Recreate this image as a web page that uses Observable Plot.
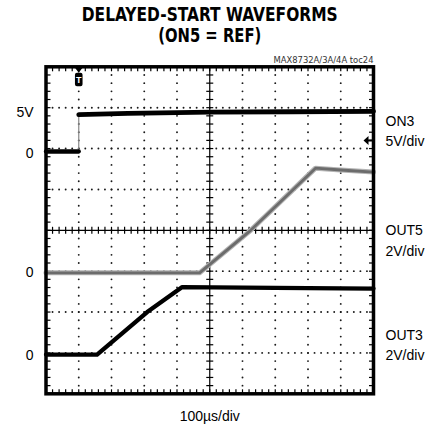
<!DOCTYPE html>
<html><head><meta charset="utf-8">
<script src="https://cdn.jsdelivr.net/npm/d3@7"></script>
<script src="https://cdn.jsdelivr.net/npm/@observablehq/plot@0.6"></script>
<style>body{margin:0;background:#fff;} #chart svg{display:block;}</style>
</head><body><div id="chart"></div>
<script>
// ---- text ----
const titleLines = ["DELAYED-START WAVEFORMS", "(ON5 = REF)"];
const docId = "MAX8732A/3A/4A toc24";
const xLabel = "100µs/div";

// ---- channels ----
const channelNames = ["ON3", "OUT5", "OUT3"];
const voltsPerDiv = [5, 2, 2];
const groundDiv = [6, 3, 1];          // ground reference, divisions from bottom
const channelLabels = ["ON3\n5V/div", "OUT5\n2V/div", "OUT3\n2V/div"];
const channelLabelDiv = [6.46, 3.79, 1.23];

// left level markers: [label, channel index, volts]
const levelLabels = ["5V", "0", "0", "0"];
const levelChannel = [0, 0, 1, 2];
const levelVolts = [5, 0, 0, 0];
const levelNudge = [5, 5.4, 1.8, 3];

// ---- time axis: µs, 100 µs/div, 10 divisions ----
const timeDivs = [0, 100, 200, 300, 400, 500, 600, 700, 800, 900, 1000];
const voltDivs = [0, 1, 2, 3, 4, 5, 6, 7, 8];
const triggerTime = [100];
const triggerLevelDiv = [6.2];

// ---- traces (time µs, volts) ----
const on3LowT = [0, 100];
const on3LowV = [-0.36, -0.36];
const on3EdgeT = [100, 100];
const on3EdgeV = [-0.36, 4.15];
const on3HighT = [100, 250, 500, 750, 1000];
const on3HighV = [4.15, 4.3, 4.45, 4.5, 4.55];

const out5T = [0, 469, 625, 823, 900, 1000];
const out5V = [-0.08, -0.08, 2.0, 5.04, 4.95, 4.85];

const out3T = [0, 156, 309, 416, 700, 1000];
const out3V = [-0.08, -0.08, 2.0, 3.22, 3.18, 3.15];

// ---- build rows ----
const toDiv = (ch, v) => groundDiv[ch] + v / voltsPerDiv[ch];
const rows = (ts, vs, ch) => ts.map((t, i) => ({t, d: toDiv(ch, vs[i])}));
const on3Low = rows(on3LowT, on3LowV, 0);
const on3Edge = rows(on3EdgeT, on3EdgeV, 0);
const on3High = rows(on3HighT, on3HighV, 0);
const out5 = rows(out5T, out5V, 1);
const out3 = rows(out3T, out3V, 2);

const minorX = d3.range(0, 1000.001, 20);
const minorY = d3.range(0, 8.001, 0.2).map(v => Math.round(v * 10) / 10);
const centerX = 500, centerY = 4;
const gridV = timeDivs.filter(x => x > 0 && x < 1000 && x !== centerX)
  .flatMap(x => minorY.filter(y => y > 0 && y < 8).map(y => ({x, y})));
const gridH = voltDivs.filter(y => y > 0 && y < 8 && y !== centerY)
  .flatMap(y => minorX.filter(x => x > 0 && x < 1000).map(x => ({x, y})));

const levelRows = levelLabels.map((s, i) => ({s, d: toDiv(levelChannel[i], levelVolts[i])}));
const chanRows = channelLabels.map((s, i) => ({s, d: channelLabelDiv[i]}));

// ---- custom symbols ----
const seg = (x1, y1, x2, y2) => ({draw(c) { c.moveTo(x1, y1); c.lineTo(x2, y2); }});
const trigSym = {draw(c) {
  c.moveTo(-4.5, 0); c.lineTo(4.5, 0); c.lineTo(0, 6); c.closePath();
  const x0 = -3.8, x1 = 3.8, y0 = 6, y1 = 19.5, r = 2;
  c.moveTo(x0 + r, y0); c.lineTo(x1 - r, y0); c.arcTo(x1, y0, x1, y0 + r, r);
  c.lineTo(x1, y1 - r); c.arcTo(x1, y1, x1 - r, y1, r);
  c.lineTo(x0 + r, y1); c.arcTo(x0, y1, x0, y1 - r, r);
  c.lineTo(x0, y0 + r); c.arcTo(x0, y0, x0 + r, y0, r); c.closePath();
}};
const arrowSym = {draw(c) {
  c.moveTo(-10, 0); c.lineTo(-5, -4.5); c.lineTo(-5, 4.5); c.closePath();
  c.rect(-5.5, -1, 5.5, 2);
}};

const narrow = "'Liberation Sans Narrow', 'DejaVu Sans Condensed', 'Arial Narrow', sans-serif";
const tickStyle = {stroke: "black", strokeWidth: 1.2, fill: "none"};

const chart = Plot.plot({
  width: 441,
  height: 427,
  marginLeft: 45.5,
  marginRight: 68,
  marginTop: 66.3,
  marginBottom: 33.7,
  style: {fontFamily: "'Liberation Sans', Arial, sans-serif", fontSize: "14px", background: "#fff"},
  x: {domain: [0, 1000], axis: null},
  y: {domain: [0, 8], axis: null},
  marks: [
    // dotted graticule
    Plot.dot(gridV, {x: "x", y: "y", r: 0.95, fill: "#1a1a1a", stroke: "none"}),
    Plot.dot(gridH, {x: "x", y: "y", r: 0.95, fill: "#1a1a1a", stroke: "none"}),
    // center axes with ticks
    Plot.ruleX([centerX], {strokeWidth: 1.2}),
    Plot.ruleY([centerY], {strokeWidth: 1.2}),
    Plot.dot(minorY, {x: () => centerX, y: d => d, symbol: seg(-3.5, 0, 3.5, 0), ...tickStyle}),
    Plot.dot(minorX, {x: d => d, y: () => centerY, symbol: seg(0, -3.5, 0, 3.5), ...tickStyle}),
    // frame edge ticks
    Plot.dot(minorX, {x: d => d, y: () => 8, symbol: seg(0, 0, 0, 4.5), ...tickStyle}),
    Plot.dot(minorX, {x: d => d, y: () => 0, symbol: seg(0, 0, 0, -4.5), ...tickStyle}),
    Plot.dot(minorY, {x: () => 0, y: d => d, symbol: seg(0, 0, 4.5, 0), ...tickStyle}),
    Plot.dot(minorY, {x: () => 1000, y: d => d, symbol: seg(0, 0, -4.5, 0), ...tickStyle}),
    // traces
    Plot.line(out5, {x: "t", y: "d", stroke: "#b4b4b4", strokeWidth: 5}),
    Plot.line(out5, {x: "t", y: "d", stroke: "#6c6c6c", strokeWidth: 2.8}),
    Plot.line(out3, {x: "t", y: "d", stroke: "black", strokeWidth: 4.3}),
    Plot.line(on3Edge, {x: "t", y: "d", stroke: "#888", strokeWidth: 1.2}),
    Plot.line(on3Low, {x: "t", y: "d", stroke: "black", strokeWidth: 4.3}),
    Plot.line(on3High, {x: "t", y: "d", stroke: "black", strokeWidth: 4.8}),
    // frame
    Plot.frame({stroke: "black", strokeWidth: 3.5}),
    // trigger markers
    Plot.dot(triggerTime, {x: d => d, y: () => 8, symbol: trigSym, fill: "black", stroke: "none"}),
    Plot.text(triggerTime, {x: d => d, y: () => 8, text: () => "T", dy: 13, fill: "white", fontWeight: "bold", fontSize: 9, lineAnchor: "middle"}),
    Plot.dot(triggerLevelDiv, {x: () => 1000, y: d => d, symbol: arrowSym, fill: "black", stroke: "none"}),
    // level labels (left)
    ...levelRows.map((r, i) => Plot.text([r], {x: () => 0, y: "d", text: "s", textAnchor: "end", lineAnchor: "middle", dx: -12.5, dy: levelNudge[i]})),
    // channel labels (right)
    Plot.text(chanRows, {x: () => 1000, y: "d", text: "s", textAnchor: "start", lineAnchor: "middle", dx: 12, lineHeight: 1.45}),
    // titles
    Plot.text([titleLines[0]], {text: d => d, frameAnchor: "top", lineAnchor: "middle", dy: -51.6, fontFamily: narrow, fontWeight: "bold", fontSize: 19.5}),
    Plot.text([titleLines[1]], {text: d => d, frameAnchor: "top", lineAnchor: "middle", dy: -30.6, fontFamily: narrow, fontWeight: "bold", fontSize: 19.5}),
    Plot.text([docId], {text: d => d, frameAnchor: "top-right", textAnchor: "end", lineAnchor: "middle", dy: -6.3, fontFamily: narrow, fontSize: 8.5, fill: "#333"}),
    Plot.text([xLabel], {text: d => d, frameAnchor: "bottom", lineAnchor: "middle", dy: 23})
  ]
});
// fit condensed title widths to the reference proportions
const fitWidths = new Map([[titleLines[0], 256], [titleLines[1], 103], [docId, 100]]);
d3.select(chart).selectAll("text").each(function () {
  const w = fitWidths.get(this.textContent);
  if (w) { this.setAttribute("textLength", w); this.setAttribute("lengthAdjust", "spacingAndGlyphs"); }
});
document.getElementById("chart").append(chart);
</script>
</body></html>
